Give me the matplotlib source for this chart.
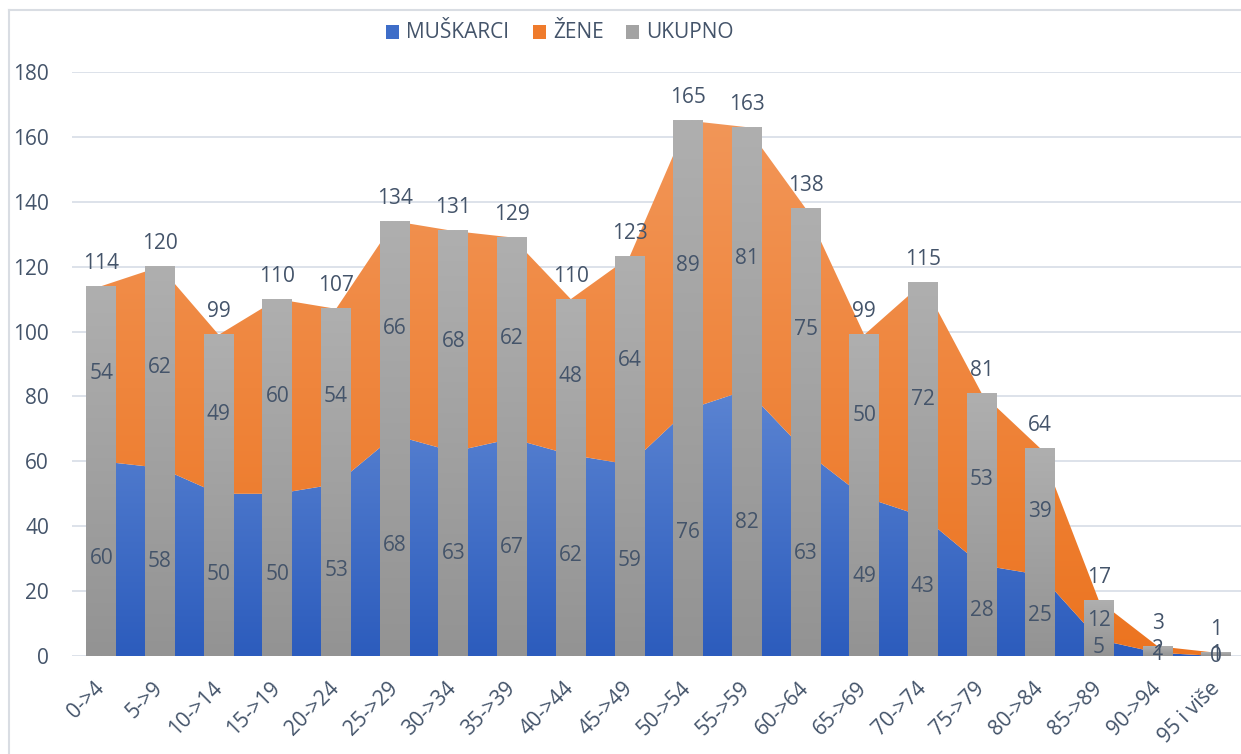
import numpy as np
import matplotlib.pyplot as plt
from matplotlib.colors import LinearSegmentedColormap
from matplotlib.lines import Line2D
from matplotlib.patches import Rectangle

categories = ["0->4", "5->9", "10->14", "15->19", "20->24", "25->29", "30->34",
              "35->39", "40->44", "45->49", "50->54", "55->59", "60->64", "65->69",
              "70->74", "75->79", "80->84", "85->89", "90->94", "95 i više"]
muskarci = [60, 58, 50, 50, 53, 68, 63, 67, 62, 59, 76, 82, 63, 49, 43, 28, 25, 5, 1, 0]
zene = [54, 62, 49, 60, 54, 66, 68, 62, 48, 64, 89, 81, 75, 50, 72, 53, 39, 12, 2, 1]
ukupno = [114, 120, 99, 110, 107, 134, 131, 129, 110, 123, 165, 163, 138, 99, 115, 81, 64, 17, 3, 1]
series_names = ["MUŠKARCI", "ŽENE", "UKUPNO"]

plt.rcParams['font.family'] = ['Open Sans', 'DejaVu Sans']
TXT = '#44546A'
W, H = 1241, 754
fig = plt.figure(figsize=(W / 100, H / 100), dpi=100)
ax = fig.add_axes([72 / W, 98 / H, (1245.7 - 72) / W, 584 / H])

x = np.arange(len(categories))
m = np.array(muskarci, dtype=float)
z = np.array(zene, dtype=float)
t = np.array(ukupno, dtype=float)
XL = (-0.5, len(categories) - 0.5)
YL = (0, 180)
grad = np.linspace(0, 1, 256).reshape(-1, 1)


def grad_area(y1, y2, c_bot, c_top, ymin, ymax, zo):
    poly = ax.fill_between(x, y1, y2, facecolor='none', lw=0, zorder=zo)
    cmap = LinearSegmentedColormap.from_list('g', [c_bot, c_top])
    img = ax.imshow(grad, cmap=cmap, aspect='auto', origin='lower',
                    extent=[XL[0], XL[1], ymin, ymax], zorder=zo, interpolation='bilinear')
    img.set_clip_path(poly.get_paths()[0], ax.transData)


grad_area(0, m, '#2C5CBD', '#5B84D2', 0, m.max(), 1)
grad_area(m, m + z, '#EC7420', '#F29658', 0, (m + z).max(), 1)

bw = 0.51
gray_cmap = LinearSegmentedColormap.from_list('gr', ['#939393', '#AFAFAF'])
for xi, ti in zip(x, t):
    ax.imshow(grad, cmap=gray_cmap, aspect='auto', origin='lower',
              extent=[xi - bw / 2, xi + bw / 2, 0, ti], zorder=2, interpolation='bilinear')

ax.set_xlim(*XL)
ax.set_ylim(*YL)

# data labels
for xi, mi, zi, ti in zip(x, m, z, t):
    ax.text(xi, mi / 2, f"{int(mi)}", ha='center', va='center', fontsize=15, color=TXT, zorder=4)
    ax.text(xi, mi + zi / 2, f"{int(zi)}", ha='center', va='center', fontsize=15, color=TXT, zorder=4)
    ax.annotate(f"{int(ti)}", (xi, ti), xytext=(0, 9), textcoords='offset points',
                ha='center', va='bottom', fontsize=15, color=TXT, zorder=4)

ax.set_yticks(range(0, 181, 20))
ax.grid(axis='y', color='#DDE2EA', lw=1.4)
ax.set_axisbelow(True)
for s in ax.spines.values():
    s.set_visible(False)
ax.tick_params(axis='y', length=0, pad=16.5, labelsize=15, labelcolor=TXT)
ax.set_xticks(x)
ax.set_xticklabels(categories, rotation=45, ha='right', va='center', rotation_mode='anchor')
ax.tick_params(axis='x', length=0, pad=21, labelsize=15, labelcolor=TXT)

# legend (manual)
leg = [(386, '#3E6DC8', series_names[0]), (533, '#EF7B2C', series_names[1]), (626, '#A3A3A3', series_names[2])]
for px, col, name in leg:
    fig.add_artist(Rectangle((px / W, 1 - 39 / H), 13 / W, 14 / H, transform=fig.transFigure,
                             facecolor=col, edgecolor='none'))
    fig.text((px + 20) / W, 1 - 32 / H, name, ha='left', va='center', fontsize=15, color=TXT)

# chart border (cropped on right/bottom)
bc = '#D9DDE3'
fig.add_artist(Line2D([9 / W, 9 / W], [0, 1 - 10 / H], transform=fig.transFigure, color=bc, lw=1.5))
fig.add_artist(Line2D([9 / W, 1], [1 - 10 / H, 1 - 10 / H], transform=fig.transFigure, color=bc, lw=1.5))

fig.savefig('out.png', dpi=100)
